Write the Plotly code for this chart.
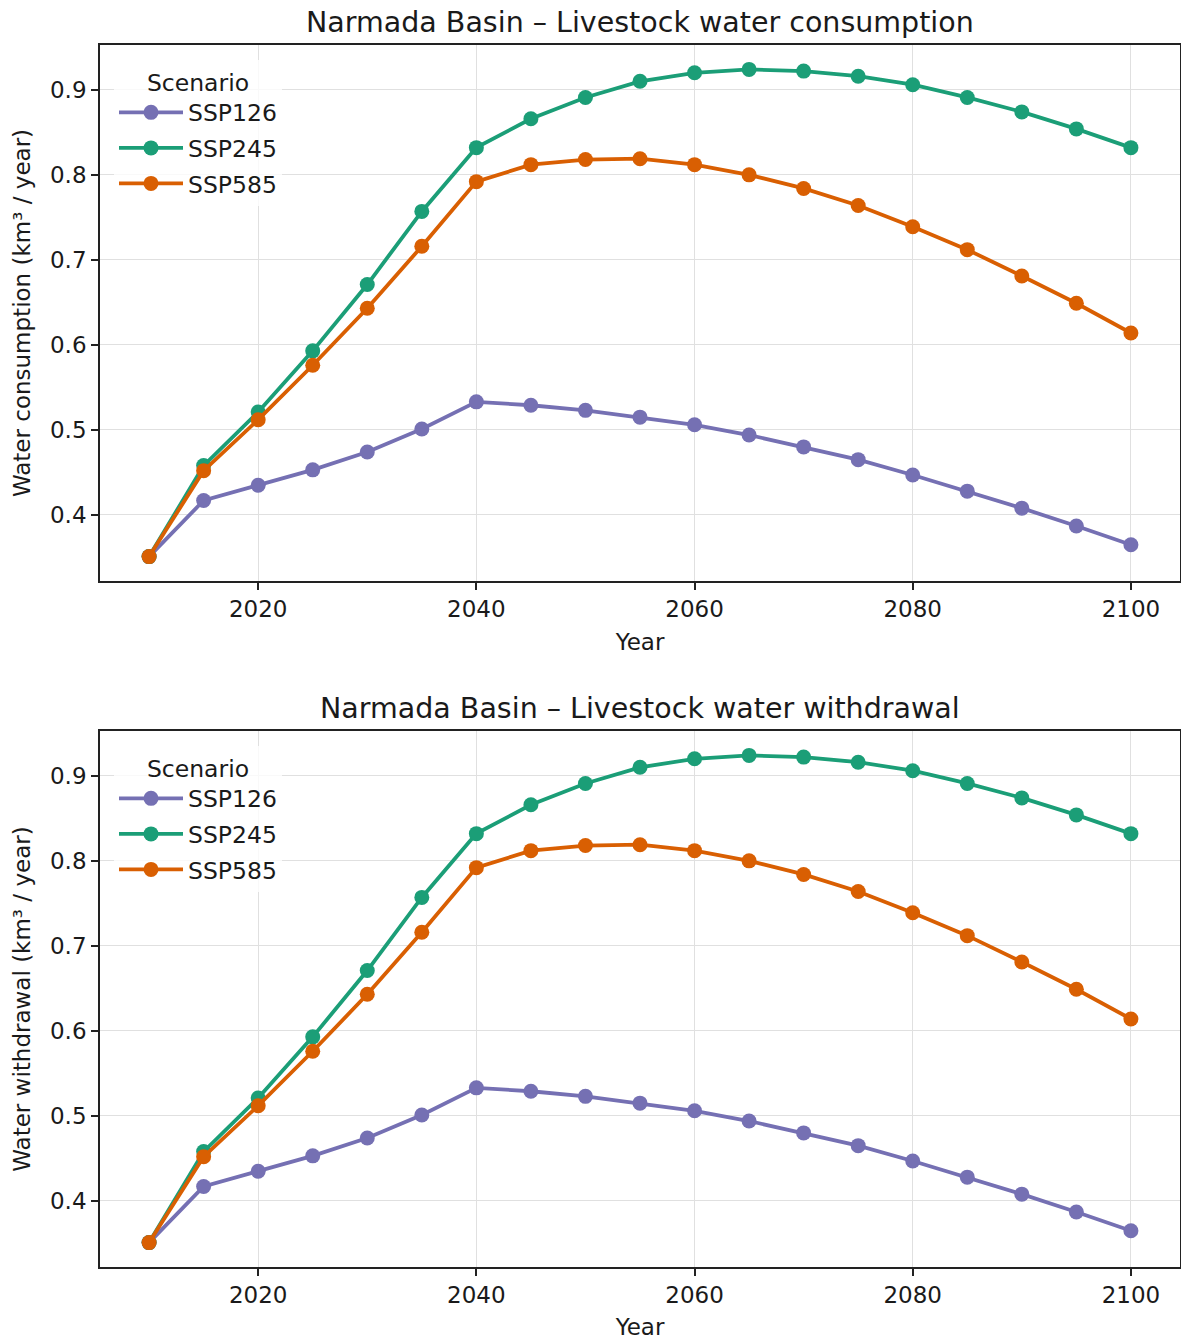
import plotly.graph_objects as go

years = [2010, 2015, 2020, 2025, 2030, 2035, 2040, 2045, 2050, 2055,
         2060, 2065, 2070, 2075, 2080, 2085, 2090, 2095, 2100]

scenarios = ["SSP126", "SSP245", "SSP585"]
colors = ["#7570b3", "#1b9e77", "#d95f02"]

consumption_ssp126 = [0.351, 0.417, 0.435, 0.453, 0.474, 0.501, 0.533, 0.529, 0.523, 0.515,
                      0.506, 0.494, 0.480, 0.465, 0.447, 0.428, 0.408, 0.387, 0.365]
consumption_ssp245 = [0.351, 0.458, 0.521, 0.593, 0.671, 0.757, 0.832, 0.866, 0.891, 0.910,
                      0.920, 0.924, 0.922, 0.916, 0.906, 0.891, 0.874, 0.854, 0.832]
consumption_ssp585 = [0.351, 0.452, 0.512, 0.576, 0.643, 0.716, 0.792, 0.812, 0.818, 0.819,
                      0.812, 0.800, 0.784, 0.764, 0.739, 0.712, 0.681, 0.649, 0.614]

withdrawal_ssp126 = [0.351, 0.417, 0.435, 0.453, 0.474, 0.501, 0.533, 0.529, 0.523, 0.515,
                     0.506, 0.494, 0.480, 0.465, 0.447, 0.428, 0.408, 0.387, 0.365]
withdrawal_ssp245 = [0.351, 0.458, 0.521, 0.593, 0.671, 0.757, 0.832, 0.866, 0.891, 0.910,
                     0.920, 0.924, 0.922, 0.916, 0.906, 0.891, 0.874, 0.854, 0.832]
withdrawal_ssp585 = [0.351, 0.452, 0.512, 0.576, 0.643, 0.716, 0.792, 0.812, 0.818, 0.819,
                     0.812, 0.800, 0.784, 0.764, 0.739, 0.712, 0.681, 0.649, 0.614]

titles = ["Narmada Basin – Livestock water consumption",
          "Narmada Basin – Livestock water withdrawal"]
ylabels = ["Water consumption (km³ / year)", "Water withdrawal (km³ / year)"]
xlabel = "Year"
legend_title = "Scenario"
xtick_vals = [2020, 2040, 2060, 2080, 2100]
ytick_vals = [0.4, 0.5, 0.6, 0.7, 0.8, 0.9]

W, H = 1181, 1340
FONT = "DejaVu Sans"
TXT = "#1a1a1a"
TICK_SIZE = 23
LABEL_SIZE = 23
TITLE_SIZE = 28.5
LEGEND_SIZE = 23.5

fig = go.Figure()

panels = [
    ("x", "y", "legend", "a", [consumption_ssp126, consumption_ssp245, consumption_ssp585]),
    ("x2", "y2", "legend2", "b", [withdrawal_ssp126, withdrawal_ssp245, withdrawal_ssp585]),
]
for xa, ya, lg, tag, series in panels:
    for name, col, vals in zip(scenarios, colors, series):
        fig.add_trace(go.Scatter(
            x=years, y=vals, name=name, mode="lines+markers",
            line=dict(color=col, width=3.8),
            marker=dict(color=col, size=15),
            xaxis=xa, yaxis=ya, legend=lg, legendgroup=tag + name,
        ))

# pixel layout
left, right = 100, 1180
top_axes = (45, 581)
bot_axes = (731, 1267)
shift = bot_axes[0] - top_axes[0]

def ydom(t, b):
    return [1 - b / H, 1 - t / H]

axis_common = dict(
    showline=True, mirror=True, linecolor="#222222", linewidth=1.7,
    showgrid=True, gridcolor="#e0e0e0", gridwidth=1.2,
    ticks="outside", ticklen=7, tickwidth=1.5, tickcolor="#222222",
    tickfont=dict(family=FONT, size=TICK_SIZE, color=TXT),
    zeroline=False, automargin=False,
)

xr = [2005.5, 2104.5]
yr = [0.3223, 0.9527]

def legend_cfg(top_px):
    return dict(
        x=114 / W, y=1 - top_px / H, xanchor="left", yanchor="top",
        bgcolor="rgba(255,255,255,0.8)", borderwidth=0,
        title=dict(text=legend_title, side="top center",
                   font=dict(family=FONT, size=LEGEND_SIZE, color=TXT)),
        font=dict(family=FONT, size=LEGEND_SIZE, color=TXT),
        itemwidth=64, tracegroupgap=2, traceorder="grouped",
    )

fig.update_layout(
    width=W, height=H,
    margin=dict(l=0, r=0, t=0, b=0),
    paper_bgcolor="white", plot_bgcolor="white",
    font=dict(family=FONT, size=LABEL_SIZE, color=TXT),
    showlegend=True,
    xaxis=dict(domain=[left / W, right / W], range=xr, tickvals=xtick_vals,
               anchor="y", title=dict(text=xlabel, font=dict(size=LABEL_SIZE), standoff=12), **axis_common),
    yaxis=dict(domain=ydom(*top_axes), range=yr, tickvals=ytick_vals,
               tickformat=".1f", anchor="x",
               title=dict(text=ylabels[0], font=dict(size=LABEL_SIZE), standoff=13), **axis_common),
    xaxis2=dict(domain=[left / W, right / W], range=xr, tickvals=xtick_vals,
                anchor="y2", title=dict(text=xlabel, font=dict(size=LABEL_SIZE), standoff=12), **axis_common),
    yaxis2=dict(domain=ydom(*bot_axes), range=yr, tickvals=ytick_vals,
                tickformat=".1f", anchor="x2",
                title=dict(text=ylabels[1], font=dict(size=LABEL_SIZE), standoff=13), **axis_common),
    legend=legend_cfg(60),
    legend2=legend_cfg(60 + shift),
    annotations=[
        dict(text=titles[0], x=(left + right) / 2 / W, y=1 - 22 / H, xref="paper", yref="paper",
             xanchor="center", yanchor="middle", showarrow=False,
             font=dict(family=FONT, size=TITLE_SIZE, color=TXT)),
        dict(text=titles[1], x=(left + right) / 2 / W, y=1 - (22 + shift) / H, xref="paper", yref="paper",
             xanchor="center", yanchor="middle", showarrow=False,
             font=dict(family=FONT, size=TITLE_SIZE, color=TXT)),
    ],
)

fig.write_html("out.html", config={"displayModeBar": False},
               post_script="document.body.style.margin='0px';")
